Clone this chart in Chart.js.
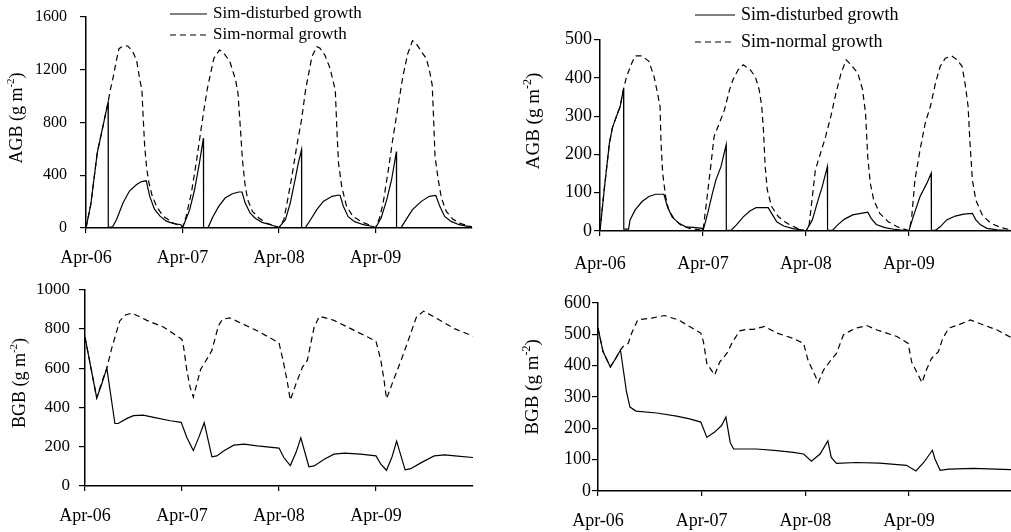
<!DOCTYPE html>
<html>
<head>
<meta charset="utf-8">
<script src="https://cdn.jsdelivr.net/npm/chart.js@4.4.1/dist/chart.umd.min.js"></script>
<style>
  html, body { margin: 0; padding: 0; background: #fff; }
  #page { position: relative; width: 1011px; height: 532px; overflow: hidden; }
  .panel { position: absolute; }
</style>
</head>
<body>
<div id="page">
  <div class="panel" style="left:0;top:0;width:500px;height:270px"><canvas id="agbA"></canvas></div>
  <div class="panel" style="left:500px;top:0;width:511px;height:275px"><canvas id="agbB"></canvas></div>
  <div class="panel" style="left:0;top:270px;width:500px;height:262px"><canvas id="bgbA"></canvas></div>
  <div class="panel" style="left:500px;top:275px;width:511px;height:257px"><canvas id="bgbB"></canvas></div>
</div>
<script>
// time axis is in months counted from Apr-06
const yearLabels = ['Apr-06', 'Apr-07', 'Apr-08', 'Apr-09'];
const yearTicks = [0, 12, 24, 36];

// above-ground biomass, site A (g m-2)
const agbADistMonths = [0, 0.6, 1.4, 2.75, 2.77, 3.3, 3.8, 4.6, 5.4, 6.3, 6.9, 7.5, 7.9, 8.5, 9.2, 10.0, 10.8, 11.8, 12.0,
    12.9, 13.5, 14.1, 14.6, 14.62, 15.2, 15.7, 16.5, 17.3, 18.2, 19.0, 19.4, 19.8, 20.4, 21.0, 21.9, 22.9, 24.0,
    24.8, 25.4, 26.0, 26.4, 26.8, 26.82, 27.3, 27.9, 28.7, 29.5, 30.6, 31.4, 31.6, 32.0, 32.6, 33.4, 34.5, 35.5, 36.0,
    36.7, 37.4, 38.0, 38.6, 38.62, 39.2, 39.8, 40.6, 41.7, 42.7, 43.5, 44.0, 44.6, 45.4, 46.4, 47.5, 48];
const agbADist = [0, 180, 570, 955, 5, 8, 65, 190, 280, 330, 352, 358, 245, 145, 90, 52, 35, 25, 0,
    139, 290, 492, 681, 3, 5, 76, 164, 227, 260, 273, 273, 189, 114, 76, 43, 25, 5,
    63, 189, 366, 492, 593, 3, 5, 61, 139, 202, 240, 250, 247, 164, 86, 48, 25, 13, 0,
    76, 215, 366, 580, 3, 5, 63, 139, 202, 240, 247, 164, 88, 50, 25, 13, 8];
const agbANormMonths = [0, 0.6, 1.4, 2.75, 3.0, 3.4, 3.8, 4.1, 4.6, 5.2, 5.8, 6.3, 6.7, 6.95, 7.1, 7.3, 7.55, 7.8, 8.2, 8.8, 9.6, 10.8, 12.0,
    12.45, 13.1, 13.7, 14.3, 14.7, 15.1, 15.5, 15.9, 16.6, 17.1, 17.9, 18.6, 18.9, 19.15, 19.45, 19.75, 20.1, 20.7, 21.5, 22.4, 23.6, 24.0,
    24.6, 25.0, 25.6, 26.2, 26.8, 27.3, 27.7, 28.1, 28.7, 29.1, 29.7, 30.35, 30.8, 31.0, 31.2, 31.4, 31.8, 32.4, 33.2, 34.3, 35.5, 36.0,
    36.5, 36.95, 37.6, 38.2, 38.8, 39.4, 40.0, 40.6, 41.1, 41.7, 42.3, 42.7, 43.05, 43.2, 43.4, 43.8, 44.2, 44.8, 45.6, 46.6, 48];
const agbANorm = [0, 180, 570, 955, 1040, 1150, 1275, 1360, 1380, 1380, 1340, 1270, 1120, 1050, 850, 620, 450, 350, 250, 160, 90, 40, 3,
    88, 265, 492, 745, 909, 1060, 1174, 1287, 1350, 1330, 1260, 1123, 1022, 800, 520, 341, 215, 126, 76, 38, 13, 0,
    63, 189, 391, 618, 820, 1045, 1174, 1300, 1375, 1363, 1312, 1211, 1095, 1047, 745, 492, 315, 164, 88, 45, 18, 0,
    76, 189, 442, 694, 921, 1148, 1320, 1420, 1395, 1338, 1287, 1199, 1085, 871, 543, 366, 227, 126, 68, 33, 8];

// above-ground biomass, site B (g m-2)
const agbBDistMonths = [0, 0.5, 1.1, 1.45, 1.8, 2.35, 2.75, 2.77, 3.33, 3.5, 4.1, 4.9, 5.7, 6.5, 7.45, 7.85, 8.4, 9.2, 10.0, 11.2, 11.9, 12.0,
    12.55, 13.1, 13.5, 14.1, 14.7, 14.72, 15.3, 15.9, 16.7, 17.5, 18.2, 19.6, 20.0, 20.6, 21.4, 22.5, 23.5, 24.0,
    24.75, 25.3, 25.9, 26.5, 26.52, 27.1, 27.7, 28.5, 29.45, 30.4, 31.2, 31.6, 32.2, 33.2, 34.4, 36.0,
    36.5, 37.3, 38.1, 38.6, 38.62, 39.1, 39.65, 40.4, 41.4, 42.4, 43.4, 43.8, 44.35, 45.1, 46.3, 47.9];
const agbBDist = [0, 110, 230, 270, 292, 325, 372, 5, 5, 29, 55, 77, 90, 96, 96, 64, 37, 20, 11, 9, 7, 0,
    46, 98, 133, 168, 225, 2, 2, 16, 37, 53, 61, 61, 46, 24, 13, 6, 3, 0,
    29, 72, 116, 168, 2, 2, 16, 31, 42, 46, 49, 33, 17, 9, 4, 0,
    37, 90, 125, 151, 2, 2, 11, 29, 39, 44, 46, 29, 16, 7, 3, 1];
const agbBNormMonths = [0, 0.5, 1.1, 1.45, 1.8, 2.35, 2.75, 3.1, 3.7, 4.1, 4.9, 5.7, 6.3, 6.7, 7.0, 7.1, 7.3, 7.65, 8.0, 8.6, 9.4, 10.4, 11.6, 12.0,
    12.35, 12.9, 13.3, 13.9, 14.5, 15.1, 15.5, 16.1, 16.7, 17.5, 18.1, 18.55, 18.85, 19.05, 19.25, 19.5, 20.0, 20.8, 21.8, 23.0, 24.0,
    24.35, 24.75, 25.1, 25.7, 26.3, 26.9, 27.5, 28.1, 28.7, 29.25, 30.05, 30.6, 30.95, 31.2, 31.5, 31.9, 32.6, 33.6, 34.75, 36.0,
    36.3, 36.7, 37.3, 37.9, 38.5, 39.1, 39.65, 40.25, 41.0, 41.6, 42.2, 42.6, 42.9, 43.1, 43.4, 43.8, 44.55, 45.55, 46.7, 47.9];
const agbBNorm = [0, 110, 230, 270, 292, 325, 372, 403, 438, 457, 457, 443, 403, 360, 325, 238, 151, 90, 55, 33, 16, 7, 3, 0,
    64, 168, 247, 281, 316, 369, 395, 421, 434, 421, 403, 369, 325, 264, 168, 107, 64, 37, 20, 7, 0,
    11, 90, 159, 203, 247, 299, 360, 412, 447, 434, 412, 369, 308, 194, 125, 81, 46, 24, 10, 1,
    29, 133, 212, 281, 325, 386, 430, 451, 457, 447, 430, 377, 325, 238, 133, 81, 42, 20, 9, 3];

// below-ground biomass, site A (g m-2)
const bgbADistMonths = [0, 1.45, 2.0, 2.7, 3.7, 4.1, 5.2, 6.0, 7.2, 8.5, 10.55, 11.9, 12.6, 13.4, 14.1, 14.75, 15.7, 16.3, 17.2, 18.4, 19.7, 21.3, 24.0,
    24.6, 25.4, 26.1, 26.7, 27.7, 28.35, 29.6, 30.8, 32.1, 34.1, 36.0, 36.6, 37.3, 38.0, 38.55, 39.6, 40.3, 41.6, 43.2, 44.5, 46.1, 48];
const bgbADist = [758, 448, 510, 600, 318, 318, 344, 358, 361, 349, 332, 324, 247, 180, 250, 322, 148, 153, 179, 208, 213, 204, 193,
    145, 104, 170, 245, 98, 102, 136, 162, 167, 162, 153, 111, 80, 150, 228, 82, 88, 119, 153, 158, 152, 145];
const bgbANormMonths = [0, 1.45, 2.0, 2.7, 3.3, 4.3, 5.0, 5.8, 7.65, 9.7, 12.0, 12.2, 12.6, 13.0, 13.4, 14.3, 15.3, 15.7, 16.5, 17.0, 17.9, 21.3, 24.0,
    24.5, 25.0, 25.4, 26.1, 26.9, 27.5, 28.35, 29.0, 30.8, 33.3, 36.0, 36.6, 37.0, 37.3, 38.3, 39.1, 39.7, 41.0, 41.9, 43.2, 45.7, 48];
const bgbANorm = [758, 448, 520, 600, 700, 840, 870, 880, 843, 809, 746, 707, 588, 503, 452, 593, 661, 690, 815, 848, 856, 790, 729,
    639, 537, 437, 520, 605, 639, 809, 864, 843, 792, 737, 639, 537, 444, 554, 639, 707, 860, 890, 860, 801, 763];

// below-ground biomass, site B (g m-2)
const bgbBDistMonths = [0, 0.58, 1.43, 2.05, 2.6, 3.3, 3.7, 4.4, 6.8, 9.1, 10.6, 11.9, 12.6, 13.5, 14.3, 14.8, 15.3, 15.7, 18.35, 20.7, 22.6, 23.8,
    24.7, 25.7, 26.6, 27.0, 27.6, 29.9, 32.6, 35.7, 36.8, 37.7, 38.7, 39.0, 39.6, 40.6, 43.5, 46.0, 47.8];
const bgbBDist = [520, 445, 396, 423, 450, 316, 268, 255, 249, 239, 230, 220, 171, 188, 209, 236, 155, 134, 134, 129, 123, 118,
    95, 118, 160, 107, 88, 91, 89, 82, 64, 91, 130, 102, 66, 70, 72, 70, 68];
const bgbBNormMonths = [0, 0.58, 1.43, 2.05, 2.6, 2.9, 3.5, 3.9, 4.6, 6.2, 7.7, 9.3, 10.6, 11.9, 12.2, 12.6, 13.5, 14.1, 14.9, 15.6, 16.4, 17.2, 18.0, 19.3, 20.7, 22.6, 23.8,
    24.3, 25.5, 26.1, 26.8, 27.6, 28.4, 29.2, 29.9, 31.1, 32.3, 34.6, 35.9, 36.3, 37.5, 38.0, 38.6, 39.4, 39.9, 40.6, 41.7, 43.1, 44.4, 46.2, 47.8];
const bgbBNorm = [520, 445, 396, 423, 450, 461, 471, 504, 546, 552, 560, 546, 525, 504, 477, 407, 370, 412, 439, 477, 511, 516, 516, 525, 504, 487, 471,
    418, 346, 386, 412, 439, 498, 511, 520, 528, 514, 493, 471, 412, 346, 386, 423, 445, 487, 520, 530, 546, 532, 514, 490];

const SERIF = '"Liberation Serif", "Times New Roman", serif';

function toPoints(months, values) {
    return months.map((m, i) => ({ x: m, y: values[i] }));
}

// rotated y title with a raised exponent, e.g. AGB (g m-2)
const axisTitle = {
    id: 'axisTitle',
    afterDraw(chart, args, opts) {
        const ctx = chart.ctx;
        const big = opts.size + 'px ' + SERIF;
        const small = Math.round(opts.size * 0.62) + 'px ' + SERIF;
        ctx.save();
        ctx.font = big;
        const w1 = ctx.measureText(opts.main).width;
        const w3 = ctx.measureText(')').width;
        ctx.font = small;
        const w2 = ctx.measureText(opts.sup).width;
        ctx.translate(opts.x, opts.y);
        ctx.rotate(-Math.PI / 2);
        ctx.fillStyle = '#000';
        ctx.textBaseline = 'middle';
        ctx.textAlign = 'left';
        let x = -(w1 + w2 + w3) / 2;
        ctx.font = big;
        ctx.fillText(opts.main, x, 0);
        x += w1;
        ctx.font = small;
        ctx.fillText(opts.sup, x, -opts.size * 0.32);
        x += w2;
        ctx.font = big;
        ctx.fillText(')', x, 0);
        ctx.restore();
    }
};

// line-sample key, one row per dataset
const lineKey = {
    id: 'lineKey',
    afterDraw(chart, args, opts) {
        if (!opts.show) return;
        const ctx = chart.ctx;
        chart.data.datasets.forEach((ds, i) => {
            const y = opts.rows[i];
            ctx.save();
            ctx.strokeStyle = ds.borderColor;
            ctx.lineWidth = ds.borderWidth;
            ctx.setLineDash(ds.borderDash || []);
            ctx.beginPath();
            ctx.moveTo(opts.x, y);
            ctx.lineTo(opts.x + opts.len, y);
            ctx.stroke();
            ctx.setLineDash([]);
            ctx.font = opts.size + 'px ' + SERIF;
            ctx.fillStyle = '#000';
            ctx.textBaseline = 'middle';
            ctx.fillText(ds.label, opts.x + opts.len + opts.gap, y);
            ctx.restore();
        });
    }
};

function panelChart(id, p) {
    const canvasH = document.getElementById(id).parentNode.clientHeight;
    return new Chart(document.getElementById(id), {
        type: 'line',
        data: {
            datasets: [{
                    label: 'Sim-disturbed growth',
                    data: toPoints(p.distMonths, p.dist),
                    borderColor: '#000',
                    borderWidth: 1.2,
                    pointRadius: 0,
                    tension: 0
                },
                {
                    label: 'Sim-normal growth',
                    data: toPoints(p.normMonths, p.norm),
                    borderColor: '#000',
                    borderWidth: 1.2,
                    borderDash: [6, 4],
                    pointRadius: 0,
                    tension: 0
                }
            ]
        },
        options: {
            responsive: true,
            maintainAspectRatio: false,
            animation: false,
            layout: { padding: { left: 0, top: p.plotTop, right: p.padRight, bottom: 0 } },
            plugins: {
                legend: { display: false },
                tooltip: { enabled: false },
                axisTitle: p.title,
                lineKey: p.key
            },
            scales: {
                x: {
                    type: 'linear',
                    min: 0,
                    max: p.xMax,
                    afterBuildTicks: s => { s.ticks = yearTicks.map(v => ({ value: v })); },
                    afterFit: s => { s.height = canvasH - p.plotBottom; s.paddingLeft = 0; s.paddingRight = 0; },
                    ticks: {
                        callback: v => yearLabels[Math.round(v / 12)],
                        autoSkip: false,
                        maxRotation: 0,
                        padding: p.xPad,
                        color: '#000',
                        font: { family: SERIF, size: 18 }
                    },
                    grid: { drawOnChartArea: false, tickLength: 5, color: '#000', lineWidth: 1.2 },
                    border: { color: '#000', width: 1.5 }
                },
                y: {
                    min: 0,
                    max: p.yMax,
                    afterFit: s => { s.width = p.plotLeft; s.paddingTop = 0; s.paddingBottom = 0; },
                    ticks: {
                        stepSize: p.yStep,
                        callback: v => String(v),
                        padding: p.yPad,
                        color: '#000',
                        font: { family: SERIF, size: p.yFont }
                    },
                    grid: { drawOnChartArea: false, tickLength: 6, color: '#000', lineWidth: 1.2 },
                    border: { color: '#000', width: 1.5 }
                }
            }
        },
        plugins: [axisTitle, lineKey]
    });
}

panelChart('agbA', {
    distMonths: agbADistMonths, dist: agbADist, normMonths: agbANormMonths, norm: agbANorm,
    xMax: 48, yMax: 1600, yStep: 400, yFont: 16,
    plotLeft: 86, plotTop: 17, plotBottom: 228, padRight: 28, xPad: 14, yPad: 13,
    title: { main: 'AGB (g m', sup: '-2', x: 17, y: 118, size: 18 },
    key: { show: true, x: 170, len: 37, gap: 6, rows: [14, 35], size: 17 }
});

panelChart('agbB', {
    distMonths: agbBDistMonths, dist: agbBDist, normMonths: agbBNormMonths, norm: agbBNorm,
    xMax: 47.9, yMax: 500, yStep: 100, yFont: 18,
    plotLeft: 100, plotTop: 39.5, plotBottom: 231, padRight: 0, xPad: 17, yPad: 2,
    title: { main: 'AGB (g m', sup: '-2', x: 34, y: 121, size: 19 },
    key: { show: true, x: 195, len: 40, gap: 6, rows: [15, 42], size: 18 }
});

panelChart('bgbA', {
    distMonths: bgbADistMonths, dist: bgbADist, normMonths: bgbANormMonths, norm: bgbANorm,
    xMax: 48, yMax: 1000, yStep: 200, yFont: 17,
    plotLeft: 85, plotTop: 19.5, plotBottom: 216, padRight: 27, xPad: 14, yPad: 9,
    title: { main: 'BGB (g m', sup: '-2', x: 20, y: 113, size: 18 },
    key: { show: false }
});

panelChart('bgbB', {
    distMonths: bgbBDistMonths, dist: bgbBDist, normMonths: bgbBNormMonths, norm: bgbBNorm,
    xMax: 47.8, yMax: 600, yStep: 100, yFont: 18,
    plotLeft: 98, plotTop: 28, plotBottom: 216, padRight: 0, xPad: 14, yPad: 1,
    title: { main: 'BGB (g m', sup: '-2', x: 33, y: 112, size: 19 },
    key: { show: false }
});
</script>
</body>
</html>
